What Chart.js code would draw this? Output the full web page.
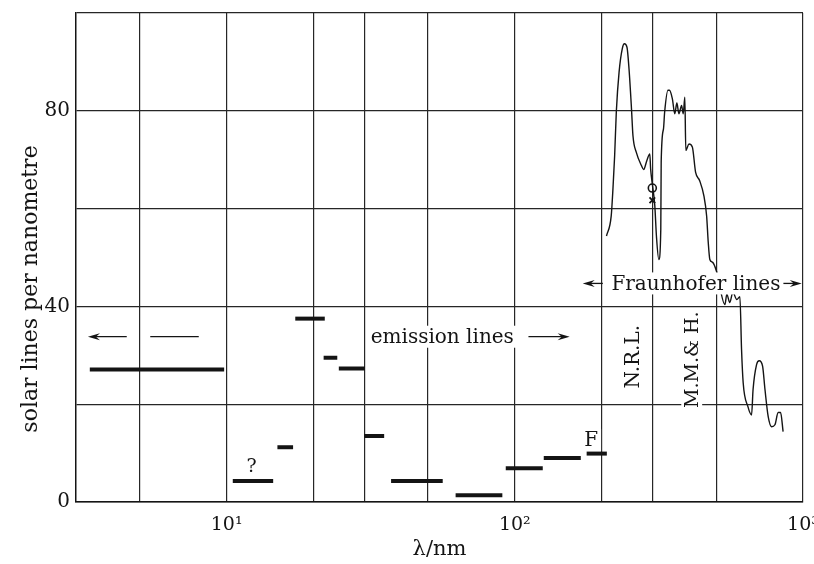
<!DOCTYPE html>
<html lang="en">
<head>
<meta charset="UTF-8">
<title>Solar lines per nanometre</title>
<script src="https://cdn.jsdelivr.net/npm/chart.js"></script>
<style>
  html, body { margin: 0; padding: 0; background: white; }
  .chart-container { width: 814px; height: 564px; }
</style>
</head>
<body>
<div class="chart-container"><canvas id="lineChart" width="814" height="564"></canvas></div>
<script>
  // Emission lines: mean count per nm over each wavelength band (nm)
  const bandStart = [3.35, 10.5, 15.0, 17.3, 21.7, 24.5, 30.0, 37.2, 62.3, 93, 126, 177.5];
  const bandEnd   = [9.8, 14.5, 17.0, 21.9, 24.2, 30.2, 35.2, 56.2, 90.5, 125, 169.4, 208.6];
  const bandValue = [27.1, 4.3, 11.2, 37.5, 29.5, 27.3, 13.5, 4.3, 1.4, 6.9, 9.0, 9.9];

  // Fraunhofer lines (N.R.L. and M.M. & H. counts)
  const fraunWl = [208, 216, 219, 222, 225, 230, 236, 240, 245, 249, 254, 257, 264, 275, 280,
    287, 294, 296, 300, 306, 310, 316, 321, 322, 328, 331, 340, 344, 352, 359, 365, 371, 379,
    384, 389, 392, 402, 413, 424, 438, 453, 463, 469, 475, 486, 501,
    536, 544, 557, 571, 589, 604, 612, 620, 644, 663, 671, 690, 705, 724, 738, 757, 778, 799,
    820, 836, 853];
  const fraunCount = [54.4, 58.5, 64, 70.8, 79.8, 87.9, 92.7, 93.7, 93, 88.6, 80.4, 74.9, 71.5,
    68.8, 68, 69.8, 71.2, 68.1, 65, 60.6, 54.4, 49.6, 55.8, 69.5, 76.3, 79.7, 84.2, 84.2, 82.5,
    79.4, 81.6, 79.4, 81.1, 79.4, 82.8, 71.9, 73.2, 72.6, 67.4, 65.7, 62.6, 58.5, 53.1, 49.6,
    49, 47.2,
    40.4, 42.5, 40.8, 42.9, 41.4, 42, 31.2, 24.4, 19.5, 17.8, 23, 28.1, 28.9, 27.8, 23, 17.5,
    15.4, 15.8, 18.3, 18.3, 14.4];

  // single measurements at 300 nm (circle, cross)
  const markWl = [300, 300];
  const markCount = [64.2, 61.7];

  const xGrid = [5, 10, 20, 30, 50, 100, 200, 300, 500, 1000];
  const xTickText = { 10: '10¹', 100: '10²', 1000: '10³' };
  const yLabelled = [0, 40, 80];

  const ink = '#141414';
  const serif = '"DejaVu Serif", "Liberation Serif", serif';

  // text and arrows placed in data coordinates
  const notes = [
    { text: 'emission lines', x: 56, y: 33.8, size: 20 },
    { text: 'Fraunhofer lines', x: 425, y: 44.7, size: 20 },
    { text: 'N.R.L.', x: 256, y: 29.7, size: 20, rotate: true },
    { text: 'M.M.& H.', x: 411, y: 29.1, size: 19, rotate: true },
    { text: '?', x: 12.2, y: 7.4, size: 19 },
    { text: 'F', x: 184, y: 12.7, size: 20 }
  ];
  const arrows = [
    { from: 4.5, to: 3.3, y: 33.8, head: true },
    { from: 5.43, to: 8.0, y: 33.8, head: false },
    { from: 111.5, to: 155, y: 33.8, head: true },
    { from: 202, to: 172, y: 44.7, head: true },
    { from: 845, to: 990, y: 44.7, head: true }
  ];
  // y axis title sits a little below the middle of the axis
  const yTitle = { text: 'solar lines per nanometre', x: 31, y: 289, size: 22 };

  const annotate = {
    id: 'annotate',
    beforeDraw(chart) {
      const ctx = chart.ctx;
      ctx.save();
      ctx.fillStyle = 'white';
      ctx.fillRect(0, 0, chart.width, chart.height);
      ctx.restore();
    },
    afterDatasetsDraw(chart) {
      const ctx = chart.ctx;
      const xs = chart.scales.x, ys = chart.scales.y;
      ctx.save();
      ctx.strokeStyle = ink;
      ctx.fillStyle = ink;
      ctx.lineWidth = 1.3;
      arrows.forEach(a => {
        const x1 = xs.getPixelForValue(a.from), x2 = xs.getPixelForValue(a.to);
        const y = ys.getPixelForValue(a.y);
        const dir = Math.sign(x2 - x1);
        ctx.beginPath();
        ctx.moveTo(x1, y);
        ctx.lineTo(a.head ? x2 - dir * 6 : x2, y);
        ctx.stroke();
        if (a.head) {
          ctx.beginPath();
          ctx.moveTo(x2, y);
          ctx.lineTo(x2 - dir * 12, y - 3.5);
          ctx.lineTo(x2 - dir * 8, y);
          ctx.lineTo(x2 - dir * 12, y + 3.5);
          ctx.closePath();
          ctx.fill();
        }
      });
      notes.forEach(n => {
        const px = xs.getPixelForValue(n.x), py = ys.getPixelForValue(n.y);
        ctx.save();
        ctx.translate(px, py);
        if (n.rotate) ctx.rotate(-Math.PI / 2);
        ctx.font = n.size + 'px ' + serif;
        ctx.textAlign = 'center';
        ctx.textBaseline = 'middle';
        const w = ctx.measureText(n.text).width;
        ctx.fillStyle = 'white';
        ctx.fillRect(-w / 2 - 3, -n.size * 0.55, w + 6, n.size * 1.1);
        ctx.fillStyle = ink;
        ctx.fillText(n.text, 0, 1);
        ctx.restore();
      });

      ctx.save();
      ctx.translate(yTitle.x, yTitle.y);
      ctx.rotate(-Math.PI / 2);
      ctx.font = yTitle.size + 'px ' + serif;
      ctx.textAlign = 'center';
      ctx.textBaseline = 'middle';
      ctx.fillStyle = ink;
      ctx.fillText(yTitle.text, 0, 0);
      ctx.restore();
      ctx.restore();
    }
  };

  const bandSets = bandStart.map((s, i) => ({
    data: [{ x: s, y: bandValue[i] }, { x: bandEnd[i], y: bandValue[i] }],
    showLine: true,
    borderColor: ink,
    borderWidth: 4,
    borderCapStyle: 'butt',
    pointRadius: 0
  }));

  const datasets = bandSets.concat([
    {
      data: fraunWl.map((w, i) => ({ x: w, y: fraunCount[i] })),
      showLine: true,
      borderColor: ink,
      borderWidth: 1.4,
      cubicInterpolationMode: 'monotone',
      pointRadius: 0
    },
    {
      data: [{ x: markWl[0], y: markCount[0] }],
      pointStyle: 'circle',
      pointRadius: 4,
      borderColor: ink,
      backgroundColor: 'rgba(0,0,0,0)',
      borderWidth: 1.6
    },
    {
      data: [{ x: markWl[1], y: markCount[1] }],
      pointStyle: 'crossRot',
      pointRadius: 4,
      borderColor: ink,
      borderWidth: 1.8
    }
  ]);

  const config = {
    type: 'scatter',
    data: { datasets: datasets },
    options: {
      responsive: false,
      animation: false,
      devicePixelRatio: 1,
      layout: { padding: { top: 13, right: 11, left: 0, bottom: 0 } },
      plugins: {
        legend: { display: false },
        tooltip: { enabled: false }
      },
      scales: {
        x: {
          type: 'logarithmic',
          position: 'bottom',
          min: 3,
          max: 1000,
          afterBuildTicks: scale => { scale.ticks = xGrid.map(v => ({ value: v })); },
          afterFit: scale => { scale.height = 62; scale.paddingLeft = 0; scale.paddingRight = 0; },
          ticks: {
            callback: value => xTickText[value] || '',
            autoSkip: false,
            maxRotation: 0,
            padding: 12,
            color: ink,
            font: { family: serif, size: 19 }
          },
          grid: { color: '#262626', lineWidth: 1.2, drawTicks: false },
          border: { color: ink, width: 1.5 },
          title: {
            display: true,
            text: 'λ/nm',
            color: ink,
            font: { family: serif, size: 21 },
            padding: { top: 0, bottom: 2 }
          }
        },
        y: {
          type: 'linear',
          min: 0,
          max: 100,
          afterFit: scale => { scale.width = 76; scale.paddingTop = 0; scale.paddingBottom = 0; },
          ticks: {
            stepSize: 20,
            callback: value => yLabelled.includes(value) ? String(value) : '',
            padding: 6,
            color: ink,
            font: { family: serif, size: 20 }
          },
          grid: { color: '#262626', lineWidth: 1.2, drawTicks: false },
          border: { color: ink, width: 1.5 }
        }
      }
    },
    plugins: [annotate]
  };

  new Chart(document.getElementById('lineChart'), config);
</script>
</body>
</html>
